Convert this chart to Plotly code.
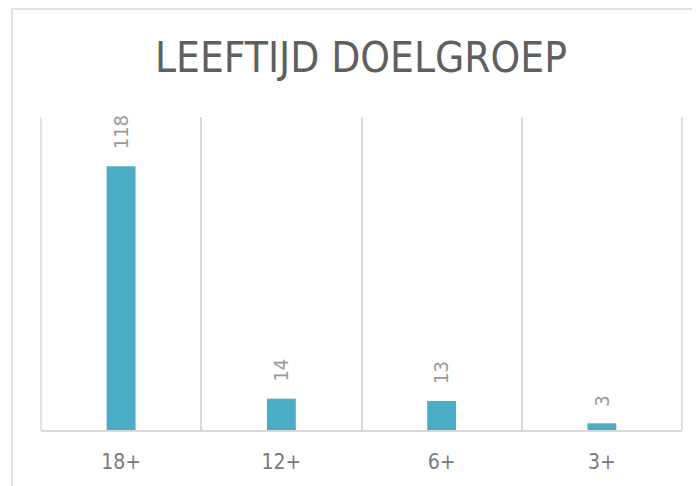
import plotly.graph_objects as go

categories = ["18+", "12+", "6+", "3+"]
values = [118, 14, 13, 3]
title_text = "LEEFTIJD DOELGROEP"

FONT = "Liberation Sans Narrow, DejaVu Sans Condensed, Arial Narrow, sans-serif"

fig = go.Figure(
    go.Bar(
        x=categories,
        y=values,
        marker=dict(color="#4BACC6", line=dict(width=0)),
        hoverinfo="x+y",
    )
)

for c, v in zip(categories, values):
    fig.add_annotation(
        x=c, y=v, xref="x", yref="y",
        text=str(v), showarrow=False,
        textangle=-90, yanchor="bottom", xanchor="center",
        yshift=15,
        font=dict(family=FONT, size=20, color="#9a9a9a"),
    )

# page body has an 8px margin, so figure coordinates are offset by 8px
OFF = 8
W, H = 700, 486
L = 41 - OFF
T = 117 - OFF
R = W - (682 - OFF)
B = H - (430 - OFF)
pw, ph = W - L - R, H - T - B

shapes = [
    dict(
        type="rect",
        xref="paper",
        yref="paper",
        x0=(12 - OFF - L) / pw,
        x1=(W + 40 - L) / pw,
        y0=-(H + 40 - (H - B)) / ph,
        y1=((H - B) - 1) / ph,
        line=dict(color="#d9d9d9", width=1.5),
        fillcolor="rgba(0,0,0,0)",
        layer="below",
    )
]
for xe in (0, 1):
    shapes.append(dict(
        type="line", xref="paper", yref="paper",
        x0=xe, x1=xe, y0=0, y1=1,
        line=dict(color="#d9d9d9", width=1.5),
        layer="below",
    ))

fig.update_layout(
    width=W,
    height=H,
    margin=dict(l=L, r=R, t=T, b=B),
    paper_bgcolor="white",
    plot_bgcolor="white",
    bargap=0.82,
    showlegend=False,
    title=dict(
        text=title_text,
        x=(361 - OFF) / W,
        xanchor="center",
        y=1 - (57 - OFF) / H,
        yanchor="middle",
        font=dict(family=FONT, size=42, color="#5f5f5f"),
    ),
    xaxis=dict(
        type="category",
        tickson="boundaries",
        showgrid=True,
        gridcolor="#d9d9d9",
        gridwidth=1.5,
        showline=True,
        linecolor="#d9d9d9",
        linewidth=2,
        ticks="",
        tickfont=dict(family=FONT, size=21, color="#7a7a7a"),
        ticklabelstandoff=12,
    ),
    yaxis=dict(
        range=[0, 140],
        visible=False,
        showgrid=False,
        zeroline=False,
    ),
    shapes=shapes,
)

fig.write_html("out.html")
